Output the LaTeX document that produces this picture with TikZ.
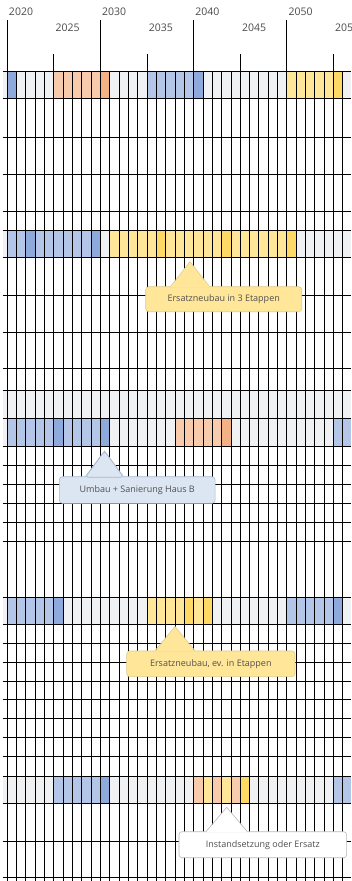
\documentclass[tikz,border=0pt]{standalone}
\usepackage{fontspec}
\setmainfont{Open Sans}
\usepackage{xcolor}
\usetikzlibrary{calc}

\definecolor{bandgray}{HTML}{F0F1F3}
\definecolor{blueL}{HTML}{B4C6E7}
\definecolor{blueD}{HTML}{8EA9DB}
\definecolor{orangeL}{HTML}{F8CBAD}
\definecolor{orangeD}{HTML}{F4B183}
\definecolor{yellowL}{HTML}{FFE699}
\definecolor{yellowD}{HTML}{FFD966}
\definecolor{textgray}{HTML}{4A4A4A}
\definecolor{notegray}{HTML}{505050}
\definecolor{noteblue}{HTML}{DCE6F2}

\tikzset{
  gridline/.style={line width=0.9pt, black},
  yearlabel/.style={anchor=west, inner sep=0pt, text=textgray, font=\fontsize{10.5}{12}\selectfont},
  note/.style={rounded corners=3pt, inner sep=0pt, line width=0.6pt, text=notegray, font=\fontsize{9}{11}\selectfont},
  noteyellow/.style={note, fill=yellowL, draw=yellowD!70!gray!80},
  noteblue/.style={note, fill=noteblue, draw=blueL!80!gray},
  notewhite/.style={note, fill=white, draw=gray!55},
}

\begin{document}
\begin{tikzpicture}[x=1pt,y=-1pt]
\clip (0,0) rectangle (351,881);

% Grey bands of the rows
\fill[bandgray] (2.7,71) rectangle (351,98);
\fill[bandgray] (2.7,230) rectangle (351,257);
\fill[bandgray] (2.7,390) rectangle (351,446);
\fill[bandgray] (2.7,597) rectangle (351,624);
\fill[bandgray] (2.7,776) rectangle (351,803);

% Row 1
\foreach \yr/\col in {2020/blueD, 2025/orangeL, 2026/orangeL, 2027/orangeL, 2028/orangeL, 2029/orangeL, 2030/orangeD,
  2035/blueL, 2036/blueL, 2037/blueL, 2038/blueL, 2039/blueL, 2040/blueD,
  2050/yellowL, 2051/yellowL, 2052/yellowL, 2053/yellowL, 2054/yellowL, 2055/yellowD}
  \fill[\col] ({7.3+9.32*(\yr-2020)},71) rectangle ++(9.32,27);

% Row 2
\foreach \yr/\col in {2020/blueL, 2021/blueL, 2022/blueD, 2023/blueL, 2024/blueL, 2025/blueL, 2026/blueL, 2027/blueL, 2028/blueL, 2029/blueD}
  \fill[\col] ({7.3+9.32*(\yr-2020)},230) rectangle ++(9.32,27);
\foreach \yr in {2031,...,2050}
  \fill[yellowL] ({7.3+9.32*(\yr-2020)},230) rectangle ++(9.32,27);
\foreach \yr in {2036,2043,2050}
  \fill[yellowD] ({7.3+9.32*(\yr-2020)},230) rectangle ++(9.32,27);

% Row 3
\foreach \yr in {2020,...,2030}
  \fill[blueL] ({7.3+9.32*(\yr-2020)},418) rectangle ++(9.32,28);
\foreach \yr in {2025,2030}
  \fill[blueD] ({7.3+9.32*(\yr-2020)},418) rectangle ++(9.32,28);
\foreach \yr/\col in {2038/orangeL, 2039/orangeL, 2040/orangeL, 2041/orangeL, 2042/orangeL, 2043/orangeD}
  \fill[\col] ({7.3+9.32*(\yr-2020)},418) rectangle ++(9.32,28);
\fill[blueL] ({7.3+9.32*35},418) rectangle (351,446);

% Row 4
\foreach \yr/\col in {2020/blueL, 2021/blueL, 2022/blueL, 2023/blueL, 2024/blueL, 2025/blueD,
  2035/yellowL, 2036/yellowL, 2037/yellowL, 2038/yellowL, 2039/yellowD, 2040/yellowL, 2041/yellowD,
  2050/blueL, 2051/blueL, 2052/blueL, 2053/blueL, 2054/blueL, 2055/blueD}
  \fill[\col] ({7.3+9.32*(\yr-2020)},597) rectangle ++(9.32,27);

% Row 5
\foreach \yr/\col in {2025/blueL, 2026/blueL, 2027/blueL, 2028/blueL, 2029/blueL, 2030/blueD,
  2040/orangeL, 2041/yellowL, 2042/orangeL, 2043/yellowL, 2044/orangeL, 2045/yellowD}
  \fill[\col] ({7.3+9.32*(\yr-2020)},776) rectangle ++(9.32,27);
\fill[blueL] ({7.3+9.32*35},776) rectangle (351,803);

% Grid
\foreach \i in {0,...,36}
  \draw[gridline] ({7.3+9.32*\i},71) -- ({7.3+9.32*\i},881);
\foreach \i in {0,10,20,30}
  \draw[gridline] ({7.3+9.32*\i},20) -- ({7.3+9.32*\i},71);
\foreach \i in {5,15,25,35}
  \draw[gridline] ({7.3+9.32*\i},54) -- ({7.3+9.32*\i},71);
\foreach \y in {71,98,137,174,211,230,257,295,332,368,390,418,446,465,484,503,522,541,597,624,643,662,681,699,718,737,756,776,803,841,877}
  \draw[gridline] (2.7,\y) -- (351,\y);

% Years
\foreach \i/\yr in {0/2020,10/2030,20/2040,30/2050}
  \node[yearlabel] (y\yr) at ({8.8+9.32*\i},12) {\yr};
\foreach \i/\yr in {5/2025,15/2035,25/2045,35/2055}
  \node[yearlabel] (y\yr) at ({8.8+9.32*\i},28) {\yr};

% Notes
\coordinate (tip1) at (190,261.7);
\node[noteyellow, minimum width=156pt, minimum height=25pt] (n1) at (223.7,299.2) {Ersatzneubau in 3 Etappen};
\fill[yellowL] ($(n1.north -| tip1)+(-19.5,0.8)$) -- (tip1) -- ($(n1.north -| tip1)+(19.5,0.8)$) -- cycle;
\draw[yellowD!70!gray!80, line width=0.6pt] ($(n1.north -| tip1)+(-19.5,0)$) -- (tip1) -- ($(n1.north -| tip1)+(19.5,0)$);

\coordinate (tip2) at (104.5,451);
\node[noteblue, minimum width=155.7pt, minimum height=26.6pt] (n2) at (137.2,490) {Umbau + Sanierung Haus B};
\fill[noteblue] ($(n2.north -| tip2)+(-19,0.8)$) -- (tip2) -- ($(n2.north -| tip2)+(19,0.8)$) -- cycle;
\draw[blueL!80!gray, line width=0.6pt] ($(n2.north -| tip2)+(-19,0)$) -- (tip2) -- ($(n2.north -| tip2)+(19,0)$);

\coordinate (tip3) at (175,626.5);
\node[noteyellow, minimum width=168.3pt, minimum height=25.7pt] (n3) at (210.8,663.8) {Ersatzneubau, ev. in Etappen};
\fill[yellowL] ($(n3.north -| tip3)+(-20,0.8)$) -- (tip3) -- ($(n3.north -| tip3)+(20,0.8)$) -- cycle;
\draw[yellowD!70!gray!80, line width=0.6pt] ($(n3.north -| tip3)+(-20,0)$) -- (tip3) -- ($(n3.north -| tip3)+(20,0)$);

\coordinate (tip4) at (226.7,807.3);
\node[notewhite, minimum width=167.7pt, minimum height=26pt] (n4) at (262.8,844.7) {Instandsetzung oder Ersatz};
\fill[white] ($(n4.north -| tip4)+(-20.5,0.8)$) -- (tip4) -- ($(n4.north -| tip4)+(20.5,0.8)$) -- cycle;
\draw[gray!55, line width=0.6pt] ($(n4.north -| tip4)+(-20.5,0)$) -- (tip4) -- ($(n4.north -| tip4)+(20.5,0)$);
\end{tikzpicture}
\end{document}
